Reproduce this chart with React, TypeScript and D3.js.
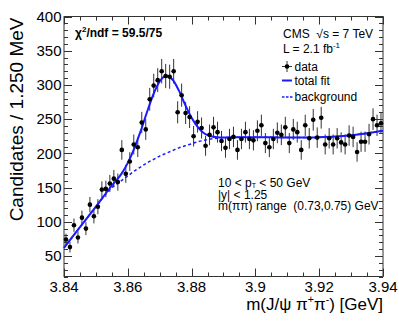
import React from "react";
import * as d3 from "d3";

// ---- data ----
const binStart = 3.84;
const binWidth = 0.00125;
const counts = [
  74, 63, 95, 77, 106, 90, 125, 108, 122, 147,
  148, 156, 163, 158, 205, 170, 188, 213, 209, 245,
  235, 279, 299, 307, 320, 313, 312, 320, 260, 285,
  259, 253, 225, 246, 237, 211, 227, 238, 231, 218,
  208, 221, 224, 205, 221, 231, 221, 219, 233, 241,
  215, 209, 221, 230, 227, 238, 215, 235, 231, 205,
  241, 222, 249, 223, 252, 213, 222, 213, 222, 216,
  213, 226, 224, 202, 217, 217, 228, 250, 241, 244,
];
const fitMass = [
  3.84, 3.845, 3.85, 3.855, 3.858, 3.86, 3.862, 3.864, 3.866, 3.868, 3.87,
  3.872, 3.874, 3.876, 3.878, 3.88, 3.882, 3.884, 3.886, 3.888, 3.89, 3.895,
  3.9, 3.905, 3.91, 3.915, 3.92, 3.925, 3.93, 3.935, 3.94,
];
const fitBackground = [
  62, 92, 122, 150, 160, 167, 174, 180, 186, 191, 196,
  200, 204, 208, 211, 214, 217, 219, 221, 222, 223, 223.5,
  223.5, 223.5, 223, 223, 223.5, 224.5, 226.5, 229.5, 233,
];
const fitTotal = [
  62, 92, 122, 153, 170, 186, 207, 232, 260, 286, 305,
  313, 308, 292, 271, 252, 238, 229, 225, 223.6, 223.3, 223.5,
  223.5, 223.5, 223, 223, 223.5, 224.5, 226.5, 229.5, 233,
];
const xMajorTicks = [3.84, 3.86, 3.88, 3.9, 3.92, 3.94];
const xTickLabels = ["3.84", "3.86", "3.88", "3.9", "3.92", "3.94"];
const yMajorTicks = [50, 100, 150, 200, 250, 300, 350, 400];

const W = 399;
const H = 322;
const L = 64, R = 383, T = 16.5, B = 276.5;
const FONT = "'Liberation Sans', Arial, Helvetica, sans-serif";
const BLUE = "#1a1aff";

export default function App() {
  const x = d3.scaleLinear().domain([3.84, 3.94]).range([L, R]);
  const y = d3.scaleLinear().domain([20, 400]).range([B, T]);

  const xMinor = d3.range(0, 21).map((i) => 3.84 + i * 0.005);
  const yMinor = d3.range(2, 41).map((i) => i * 10);

  const line = d3
    .line<number>()
    .x((_, i) => x(fitMass[i]))
    .y((d) => y(d))
    .curve(d3.curveMonotoneX);

  const pts = counts.map((c, i) => ({
    m: binStart + (i + 0.5) * binWidth,
    c,
    e: Math.sqrt(c),
  }));

  const tickStroke = "#333";
  const pre = { whiteSpace: "pre" as const };
  return (
    <svg
      width={W}
      height={H}
      style={{ position: "absolute", left: 0, top: 0, background: "#fff" }}
      fontFamily={FONT}
    >
      <rect x={0} y={0} width={W} height={H} fill="#fff" />
      {/* ticks */}
      <g stroke={tickStroke} strokeWidth={1}>
        {xMinor.map((v, i) => {
          const major = i % 4 === 0;
          const len = major ? 8 : 4;
          const xx = Math.round(x(v)) + 0.5;
          return (
            <g key={"xt" + i}>
              <line x1={xx} x2={xx} y1={B} y2={B - len} />
              <line x1={xx} x2={xx} y1={T} y2={T + len} />
            </g>
          );
        })}
        {yMinor.map((v, i) => {
          const major = v % 50 === 0;
          const len = major ? 8 : 4;
          const yy = Math.round(y(v)) + 0.5;
          return (
            <g key={"yt" + i}>
              <line x1={L} x2={L + len} y1={yy} y2={yy} />
              <line x1={R} x2={R - len} y1={yy} y2={yy} />
            </g>
          );
        })}
      </g>
      <rect x={L} y={T} width={R - L} height={B - T} fill="none" stroke={tickStroke} strokeWidth={1} />

      {/* tick labels */}
      <g fontSize={15} fill="#000">
        {xMajorTicks.map((v, i) => (
          <text key={"xl" + i} x={x(v)} y={291.5} textAnchor="middle">
            {xTickLabels[i]}
          </text>
        ))}
        {yMajorTicks.map((v) => (
          <text key={"yl" + v} x={61.5} y={y(v) + 5.3} textAnchor="end">
            {v}
          </text>
        ))}
      </g>

      {/* axis titles */}
      <text
        fontSize={19}
        textAnchor="end"
        transform={`translate(23,${T + 1}) rotate(-90)`}
      >
        Candidates / 1.250 MeV
      </text>
      <text x={R} y={310} fontSize={17} textAnchor="end">
        m(J/ψ π
        <tspan fontSize={10.5} dy={-7}>+</tspan>
        <tspan dy={7}>π</tspan>
        <tspan fontSize={10.5} dy={-7}>-</tspan>
        <tspan dy={7}>) [GeV]</tspan>
      </text>

      {/* background fit */}
      <path
        d={line(fitBackground) || ""}
        fill="none"
        stroke={BLUE}
        strokeWidth={1.5}
        strokeDasharray="3,2.5"
      />
      {/* data */}
      <g stroke="#333" strokeWidth={1}>
        {pts.map((p, i) => (
          <g key={"p" + i}>
            <line x1={x(p.m)} x2={x(p.m)} y1={y(p.c - p.e)} y2={y(p.c + p.e)} />
            <line
              x1={x(p.m - binWidth / 2)}
              x2={x(p.m + binWidth / 2)}
              y1={y(p.c)}
              y2={y(p.c)}
            />
          </g>
        ))}
      </g>
      {/* total fit */}
      <path d={line(fitTotal) || ""} fill="none" stroke={BLUE} strokeWidth={2} />
      <g fill="#000">
        {pts.map((p, i) => (
          <circle key={"c" + i} cx={x(p.m)} cy={y(p.c)} r={2.3} />
        ))}
      </g>

      {/* chi2 */}
      <text x={75} y={36.5} fontSize={12} fontWeight="bold">
        χ
        <tspan fontSize={8} dy={-5}>2</tspan>
        <tspan dy={5}>/ndf = 59.5/75</tspan>
      </text>

      {/* legend */}
      <g fontSize={12}>
        <text x={283} y={38.3} style={pre}>
          {"CMS  √s = 7 TeV"}
        </text>
        <text x={283} y={53.3}>
          L = 2.1 fb
          <tspan fontSize={8} dy={-5}>-1</tspan>
        </text>
        <line x1={282} x2={292} y1={66.5} y2={66.5} stroke="#333" />
        <line x1={287} x2={287} y1={61} y2={72} stroke="#333" />
        <circle cx={287} cy={66.5} r={2.3} fill="#000" />
        <text x={294.5} y={70.5}>data</text>
        <line x1={282} x2={292} y1={80.5} y2={80.5} stroke={BLUE} strokeWidth={2} />
        <text x={294.5} y={84.5}>total fit</text>
        <line x1={282} x2={292.5} y1={97} y2={97} stroke={BLUE} strokeWidth={1.5} strokeDasharray="2.5,1.5" />
        <text x={294.5} y={100.5}>background</text>
      </g>

      {/* selection text */}
      <g fontSize={12}>
        <text x={218} y={186.5}>
          10 &lt; p
          <tspan fontSize={7} dy={1.5}>T</tspan>
          <tspan dy={-1.5}> &lt; 50 GeV</tspan>
        </text>
        <text x={218} y={198.5}>|y| &lt; 1.25</text>
        <text x={218} y={210} style={pre}>
          {"m(ππ) range  (0.73,0.75) GeV"}
        </text>
      </g>
    </svg>
  );
}
